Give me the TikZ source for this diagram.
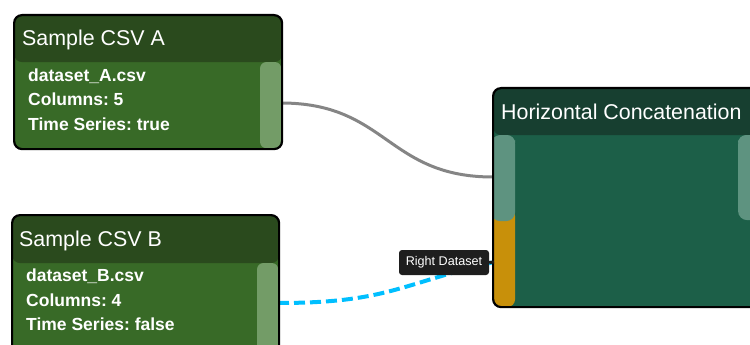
\documentclass[tikz,border=0pt]{standalone}
\usepackage{fontspec}
\setmainfont{Liberation Sans}
\frenchspacing
\begin{document}
\begin{tikzpicture}[x=1pt,y=-1pt,
  card/.style={draw=black, line width=2.2pt, rounded corners=8pt, anchor=north west, inner sep=0pt},
  title/.style={anchor=base west, text=white, font=\fontsize{21.4}{24}\selectfont, inner sep=0pt},
  info/.style={anchor=base west, text=white, font=\fontsize{17.5}{20}\selectfont\bfseries, inner sep=0pt},
  tip/.style={fill=tipgray, rounded corners=3pt, text=white, font=\fontsize{12.6}{14}\selectfont, inner sep=0pt, minimum width=90pt, minimum height=25pt},
  wire/.style={line width=3pt, draw=wiregray},
  flow/.style={line width=4pt, draw=flowblue, dash pattern=on 11pt off 5pt}]
\definecolor{csvhead}{HTML}{2A4A1D}
\definecolor{csvbody}{HTML}{386A27}
\definecolor{csvstrip}{HTML}{739C67}
\definecolor{cathead}{HTML}{173F30}
\definecolor{catbody}{HTML}{1C5F48}
\definecolor{catstrip}{HTML}{5E9380}
\definecolor{portgold}{HTML}{C8900A}
\definecolor{tipgray}{HTML}{1E1E1E}
\definecolor{wiregray}{HTML}{858585}
\definecolor{flowblue}{HTML}{00BFFF}
\useasboundingbox (0,0) rectangle (750,345);

% connectors (behind the cards)
\coordinate (aout) at (281,103);
\coordinate (bout) at (278,303);
\coordinate (cin1) at (493,177);
\coordinate (cin2) at (494,262);
\draw[wire] (aout) .. controls (387,103) and (387,177) .. (cin1);
\draw[flow] (bout) .. controls (387,303) and (400,284) .. (cin2);

% Sample CSV A
\node[card, minimum width=268pt, minimum height=134pt, fill=csvbody,
  path picture={
    \fill[csvhead] (path picture bounding box.north west) rectangle ([yshift=-47pt]path picture bounding box.north east);
    \fill[csvstrip, rounded corners=6pt] ([xshift=-22pt,yshift=-47pt]path picture bounding box.north east) rectangle ([xshift=-1pt,yshift=1pt]path picture bounding box.south east);
  }] (A) at (13,14) {};
\node[title] (Atitle) at (22,46) {Sample CSV A};
\node[info] (Al1) at (28,81.5) {dataset\_A.csv};
\node[info] (Al2) at (28,106) {Columns: 5};
\node[info] (Al3) at (28,130.5) {Time Series: true};

% Sample CSV B
\node[card, minimum width=267pt, minimum height=150pt, fill=csvbody,
  path picture={
    \fill[csvhead] (path picture bounding box.north west) rectangle ([yshift=-48pt]path picture bounding box.north east);
    \fill[csvstrip, rounded corners=6pt] ([xshift=-22pt,yshift=-48pt]path picture bounding box.north east) rectangle ([xshift=-1pt,yshift=1pt]path picture bounding box.south east);
  }] (B) at (11,214) {};
\node[title] (Btitle) at (19,246) {Sample CSV B};
\node[info] (Bl1) at (26,281.5) {dataset\_B.csv};
\node[info] (Bl2) at (26,306) {Columns: 4};
\node[info] (Bl3) at (26,330.5) {Time Series: false};

% Horizontal Concatenation
\node[card, minimum width=270pt, minimum height=219pt, fill=catbody,
  path picture={
    \fill[cathead] (path picture bounding box.north west) rectangle ([yshift=-47pt]path picture bounding box.north east);
    \fill[portgold] ([yshift=-120pt]path picture bounding box.north west) rectangle ([xshift=22pt]path picture bounding box.south west);
    \fill[catstrip, rounded corners=9pt] ([xshift=-2pt,yshift=-47pt]path picture bounding box.north west) rectangle ([xshift=22pt,yshift=-133pt]path picture bounding box.north west);
    \fill[catstrip] ([xshift=0pt,yshift=-47pt]path picture bounding box.north west) rectangle ([xshift=22pt,yshift=-60pt]path picture bounding box.north west);
    \fill[catstrip, rounded corners=9pt] ([xshift=245pt,yshift=-47pt]path picture bounding box.north west) rectangle ([xshift=280pt,yshift=-132pt]path picture bounding box.north west);
    \fill[catstrip] ([xshift=245pt,yshift=-47pt]path picture bounding box.north west) rectangle ([xshift=280pt,yshift=-60pt]path picture bounding box.north west);
  }] (C) at (492,87) {};
\node[title] (Ctitle) at (501,119) {Horizontal Concatenation};

% hover label on the second input
\node[tip] (Ctip) at (444,262.5) {Right Dataset};
\draw[line width=3pt, draw=tipgray] (Ctip.east) -- (cin2);
\end{tikzpicture}
\end{document}
